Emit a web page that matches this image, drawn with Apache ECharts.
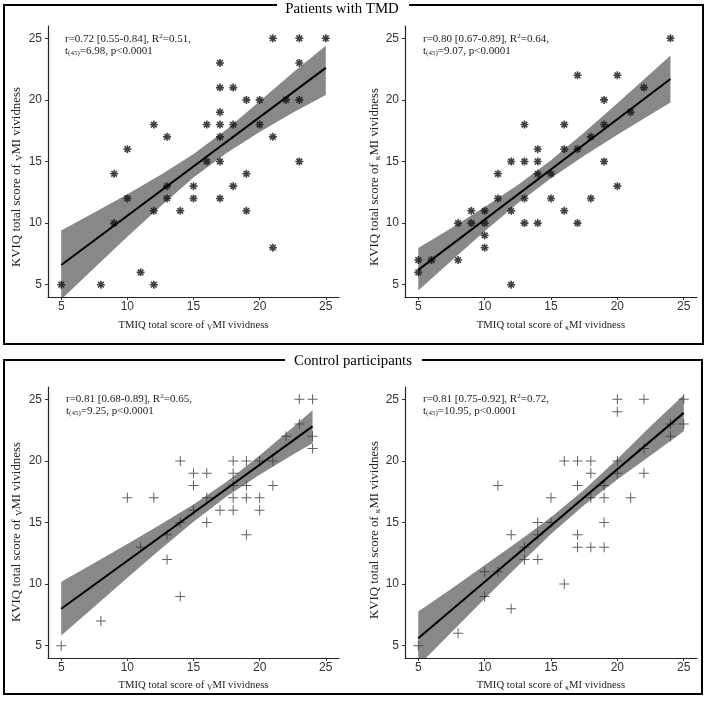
<!DOCTYPE html>
<html>
<head>
<meta charset="utf-8">
<script src="https://cdn.jsdelivr.net/npm/echarts@6/dist/echarts.min.js"></script>
<style>
html,body{margin:0;padding:0;background:#fff;}
#main{width:709px;height:703px;}
</style>
</head>
<body>
<div id="main"></div>
<script>
// ---------- data ----------
const xTicks = [5, 10, 15, 20, 25];
const yTicks = [5, 10, 15, 20, 25];

// Patients with TMD, visual MI
const tmdV_x = [21,23,25,17,23,17,18,19,20,22,23,17,12,16,17,18,20,13,17,21,10,16,17,23,9,19,13,15,18,10,13,15,17,12,14,19,9,21,11,5,8,12];
const tmdV_y = [25,25,25,23,23,21,21,20,20,20,20,19,18,18,18,18,18,17,17,17,16,15,15,15,14,14,13,13,13,12,12,12,12,11,11,11,10,8,6,5,5,5];
const tmdV_fitX = [5, 25];
const tmdV_fitY = [6.6, 22.6];
const tmdV_bandX = [5, 7.5, 10, 12.5, 15, 17.5, 20, 22.5, 25];
const tmdV_upper = [9.4, 10.85, 12.35, 13.9, 15.6, 17.6, 19.9, 22.2, 24.4];
const tmdV_lower = [3.8, 6.35, 8.9, 11.35, 13.7, 15.7, 17.4, 18.95, 20.4];

// Patients with TMD, kinesthetic MI
const tmdK_x = [24,17,20,22,19,21,13,16,19,18,14,16,17,12,13,14,19,11,14,15,20,11,13,15,18,9,10,12,16,8,9,10,13,14,17,10,10,5,6,8,5,12];
const tmdK_y = [25,22,22,21,20,19,18,18,18,17,16,16,16,15,15,15,15,14,14,14,13,12,12,12,12,11,11,11,11,10,10,10,10,10,10,9,8,7,7,7,6,5];
const tmdK_fitX = [5, 24];
const tmdK_fitY = [6.2, 21.7];
const tmdK_bandX = [5, 7.5, 10, 12.5, 15, 17.5, 20, 22.5, 24];
const tmdK_upper = [7.97, 9.61, 11.30, 13.09, 15.11, 17.36, 19.73, 22.15, 23.61];
const tmdK_lower = [4.53, 6.95, 9.34, 11.61, 13.65, 15.46, 17.17, 18.81, 19.79];

// Control participants, visual MI
const ctlV_x = [23,24,23,22,24,24,14,18,19,20,21,15,16,18,15,18,19,21,10,12,16,18,19,20,15,17,18,20,14,16,13,19,11,13,14,8,5];
const ctlV_y = [25,25,23,22,22,21,20,20,20,20,20,19,19,19,18,18,18,18,17,17,17,17,17,17,16,16,16,16,15,15,14,14,13,12,9,7,5];
const ctlV_fitX = [5, 24];
const ctlV_fitY = [8.0, 22.8];
const ctlV_bandX = [5, 7.5, 10, 12.5, 15, 17.5, 20, 22.5, 24];
const ctlV_upper = [10.18, 11.71, 13.26, 14.83, 16.47, 18.31, 20.44, 22.71, 24.11];
const ctlV_lower = [5.82, 8.17, 10.52, 12.83, 15.07, 17.11, 18.88, 20.49, 21.43];

// Control participants, kinesthetic MI
const ctlK_x = [20,22,25,20,24,25,24,22,16,17,18,20,18,20,22,11,17,19,15,18,19,21,14,15,19,12,14,17,13,17,18,19,13,14,10,11,16,10,12,8,5];
const ctlK_y = [25,25,25,24,23,23,22,21,20,20,20,20,19,19,19,18,18,18,17,17,17,17,15,15,15,14,14,14,13,13,13,13,12,12,11,11,10,9,8,6,5];
const ctlK_fitX = [5, 25];
const ctlK_fitY = [5.6, 23.9];
const ctlK_bandX = [5, 7.5, 10, 12.5, 15, 17.5, 20, 22.5, 25];
const ctlK_upper = [7.77, 9.63, 11.52, 13.43, 15.43, 17.65, 20.16, 22.82, 25.35];
const ctlK_lower = [3.37, 6.09, 8.8, 11.47, 14.07, 16.43, 18.5, 20.44, 22.4];

const statsText = [
  'r=0.72 [0.55-0.84], R{sup|2}=0.51,\nt{sub|(45)}=6.98, p<0.0001',
  'r=0.80 [0.67-0.89], R{sup|2}=0.64,\nt{sub|(45)}=9.07, p<0.0001',
  'r=0.81 [0.68-0.89], R{sup|2}=0.65,\nt{sub|(45)}=9.25, p<0.0001',
  'r=0.81 [0.75-0.92], R{sup|2}=0.72,\nt{sub|(45)}=10.95, p<0.0001'
];
const xTitles = [
  'TMIQ total score of {s|V}MI vividness',
  'TMIQ total score of {s|κ}MI vividness',
  'TMIQ total score of {s|V}MI vividness',
  'TMIQ total score of {s|κ}MI vividness'
];
const yTitles = [
  'KVIQ total score of {s|V}MI vividness',
  'KVIQ total score of {s|κ}MI vividness',
  'KVIQ total score of {s|V}MI vividness',
  'KVIQ total score of {s|κ}MI vividness'
];
const groupTitles = ['Patients with TMD', 'Control participants'];

// ---------- chart ----------
const chart = echarts.init(document.getElementById('main'), null, {renderer: 'canvas', width: 709, height: 703});

const SERIF = 'Liberation Serif';
const SANS = 'Liberation Sans';

const asteriskPath = 'path://M0 8H20V12H0Z M8 0H12V20H8Z M4.34 1.51L18.49 15.66L15.66 18.49L1.51 4.34Z M15.66 1.51L18.49 4.34L4.34 18.49L1.51 15.66Z';
const plusPath = 'path://M0 9H20V11H0Z M9 0H11V20H9Z';

const grids = [
  {left: 48, top: 26, width: 291, height: 271},
  {left: 405, top: 26, width: 292, height: 271},
  {left: 48, top: 387, width: 291, height: 271},
  {left: 405, top: 387, width: 292, height: 271}
];

const panels = [
  {x: tmdV_x, y: tmdV_y, fx: tmdV_fitX, fy: tmdV_fitY, bx: tmdV_bandX, up: tmdV_upper, lo: tmdV_lower, sym: asteriskPath, size: 8, color: '#111'},
  {x: tmdK_x, y: tmdK_y, fx: tmdK_fitX, fy: tmdK_fitY, bx: tmdK_bandX, up: tmdK_upper, lo: tmdK_lower, sym: asteriskPath, size: 8, color: '#111'},
  {x: ctlV_x, y: ctlV_y, fx: ctlV_fitX, fy: ctlV_fitY, bx: ctlV_bandX, up: ctlV_upper, lo: ctlV_lower, sym: plusPath, size: 10, color: '#3a3a3a'},
  {x: ctlK_x, y: ctlK_y, fx: ctlK_fitX, fy: ctlK_fitY, bx: ctlK_bandX, up: ctlK_upper, lo: ctlK_lower, sym: plusPath, size: 10, color: '#3a3a3a'}
];

const xSubRich = {s: {fontSize: 7.5, fontFamily: SERIF, color: '#222', verticalAlign: 'bottom', lineHeight: 13}};
const ySubRich = {s: {fontSize: 9, fontFamily: SERIF, color: '#222', verticalAlign: 'bottom', lineHeight: 15}};

const xAxes = grids.map((g, i) => ({
  gridIndex: i, type: 'value', min: 4, max: 26,
  axisLine: {show: true, onZero: false, lineStyle: {color: '#222', width: 1.2}},
  axisTick: {show: true, length: 3, customValues: xTicks, lineStyle: {color: '#333', width: 1}},
  axisLabel: {customValues: xTicks, fontFamily: SANS, fontSize: 12, color: '#333', margin: 4},
  splitLine: {show: false},
  name: xTitles[i], nameLocation: 'middle', nameGap: i < 2 ? 22 : 21,
  nameTextStyle: {fontFamily: SERIF, fontSize: 10.7, color: '#222', lineHeight: 13, rich: xSubRich}
}));
const yAxes = grids.map((g, i) => ({
  gridIndex: i, type: 'value', min: 4, max: 26,
  axisLine: {show: true, onZero: false, lineStyle: {color: '#222', width: 1.2}},
  axisTick: {show: true, length: 3, customValues: yTicks, lineStyle: {color: '#333', width: 1}},
  axisLabel: {customValues: yTicks, fontFamily: SANS, fontSize: 12, color: '#333', margin: 6},
  splitLine: {show: false}
}));

const series = [];
panels.forEach((p, i) => {
  series.push({
    type: 'custom', xAxisIndex: i, yAxisIndex: i, clip: true, silent: true, z: 1,
    data: p.bx.map((x, k) => [x, p.up[k], p.lo[k]]),
    encode: {x: 0, y: [1, 2]},
    renderItem: (params, api) => {
      if (params.dataIndex !== 0) return {type: 'group', children: []};
      const n = p.bx.length;
      const pts = [];
      for (let k = 0; k < n; k++) pts.push(api.coord([api.value(0, k), api.value(1, k)]));
      for (let k = n - 1; k >= 0; k--) pts.push(api.coord([api.value(0, k), api.value(2, k)]));
      return {type: 'polygon', shape: {points: pts}, style: {fill: '#888888'}};
    }
  });
  series.push({
    type: 'scatter', xAxisIndex: i, yAxisIndex: i, z: 3, silent: true,
    data: p.x.map((x, k) => [x, p.y[k]]),
    symbol: p.sym, symbolSize: p.size,
    itemStyle: {color: p.color}
  });
  series.push({
    type: 'line', xAxisIndex: i, yAxisIndex: i, z: 4, silent: true,
    data: p.fx.map((x, k) => [x, p.fy[k]]),
    symbol: 'none', showSymbol: false,
    lineStyle: {color: '#000', width: 2}
  });
});

const richStats = {
  sup: {fontSize: 7, fontFamily: SERIF, color: '#222', verticalAlign: 'top', lineHeight: 12},
  sub: {fontSize: 7, fontFamily: SERIF, color: '#222', verticalAlign: 'bottom', lineHeight: 12}
};
const statPos = [[65, 33], [423, 33], [66, 393], [423, 393]];
const yTitlePos = [[17, 177], [375, 177], [17, 532], [375, 530]];

const graphics = [];
// outer boxes with gaps for the group titles
graphics.push({type: 'polyline', silent: true, shape: {points: [[277, 5], [4, 5], [4, 344], [703, 344], [703, 5], [409, 5]]}, style: {stroke: '#000', lineWidth: 2, fill: null}});
graphics.push({type: 'polyline', silent: true, shape: {points: [[285, 360], [4, 360], [4, 694], [702, 694], [702, 360], [422, 360]]}, style: {stroke: '#000', lineWidth: 2, fill: null}});
graphics.push({type: 'text', silent: true, x: 342, y: 9.5, style: {text: groupTitles[0], fontFamily: SERIF, fontSize: 14.8, fill: '#000', align: 'center', verticalAlign: 'middle'}});
graphics.push({type: 'text', silent: true, x: 353, y: 361.5, style: {text: groupTitles[1], fontFamily: SERIF, fontSize: 14.8, fill: '#000', align: 'center', verticalAlign: 'middle'}});
for (let i = 0; i < 4; i++) {
  graphics.push({type: 'text', silent: true, x: statPos[i][0], y: statPos[i][1], style: {
    text: statsText[i], fontFamily: SERIF, fontSize: 11, lineHeight: 12, fill: '#222', align: 'left', verticalAlign: 'top', rich: richStats}});
  graphics.push({type: 'text', silent: true, x: yTitlePos[i][0], y: yTitlePos[i][1], rotation: Math.PI / 2, style: {
    text: yTitles[i], fontFamily: SERIF, fontSize: 12.9, lineHeight: 15, fill: '#222', align: 'center', verticalAlign: 'middle', rich: ySubRich}});
}

chart.setOption({
  animation: false,
  backgroundColor: '#fff',
  grid: grids,
  xAxis: xAxes,
  yAxis: yAxes,
  series: series,
  graphic: graphics
});
</script>
</body>
</html>
